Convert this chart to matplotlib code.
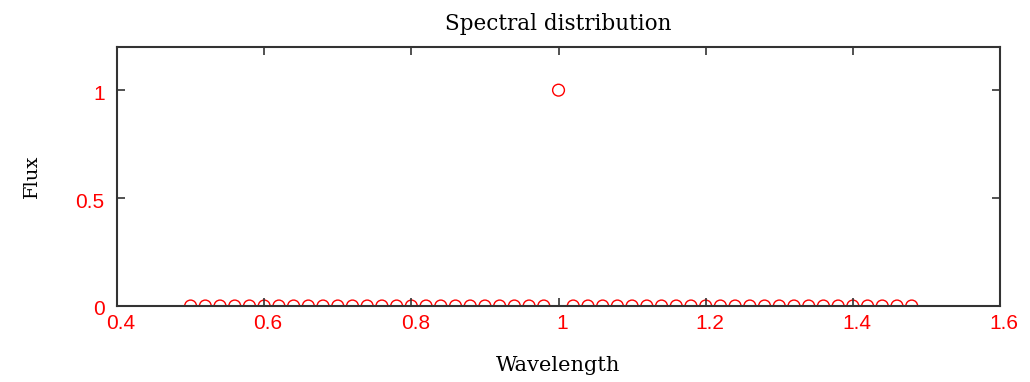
import matplotlib.pyplot as plt
import matplotlib.transforms as mtransforms
from matplotlib.patches import Rectangle
import numpy as np

# wavelength grid and flux values
wavelength = np.round(np.arange(0.50, 1.49, 0.02), 2)
flux = np.zeros(len(wavelength))
flux[wavelength == 1.0] = 1.0

x_ticks = [0.4, 0.6, 0.8, 1.0, 1.2, 1.4, 1.6]
x_tick_labels = ["0.4", "0.6", "0.8", "1", "1.2", "1.4", "1.6"]
y_ticks = [0, 0.5, 1]
y_tick_labels = ["0", "0.5", "1"]

plt.rcParams['font.family'] = ['DejaVu Serif']

fig = plt.figure(figsize=(10.3, 3.82), dpi=100)
ax = fig.add_axes([0.1136, 0.199, 0.8573, 0.678])

ax.scatter(wavelength, flux, s=72, marker='o', facecolors='none',
           edgecolors='red', linewidths=1.0, zorder=1)

# white strip just under the axis so the baseline circles look cut in half
ax.add_patch(Rectangle((0, -0.04), 1, 0.04, transform=ax.transAxes,
                       facecolor='white', edgecolor='none', clip_on=False, zorder=1.2))

ax.set_xlim(0.4, 1.6)
ax.set_ylim(0, 1.2)
ax.set_xticks(x_ticks)
ax.set_xticklabels(x_tick_labels)
ax.set_yticks(y_ticks)
ax.set_yticklabels(y_tick_labels)

ax.tick_params(direction='in', top=True, right=True, length=6, width=1.2,
               labelsize=15, colors='#333333')
ax.tick_params(axis='x', pad=6)
ax.tick_params(axis='y', pad=9)
shift_x = mtransforms.ScaledTranslation(4 / 100, 0, fig.dpi_scale_trans)
shift_y = mtransforms.ScaledTranslation(0, -2 / 100, fig.dpi_scale_trans)
for lbl in ax.get_xticklabels():
    lbl.set_color('red')
    lbl.set_family(['Liberation Sans', 'DejaVu Sans'])
    lbl.set_transform(lbl.get_transform() + shift_x)
for lbl in ax.get_yticklabels():
    lbl.set_color('red')
    lbl.set_family(['Liberation Sans', 'DejaVu Sans'])
    lbl.set_transform(lbl.get_transform() + shift_y)
for sp in ax.spines.values():
    sp.set_linewidth(1.5)
    sp.set_color('#333333')
    sp.set_zorder(3)

ax.set_title("Spectral distribution", fontsize=15.5, pad=12)
ax.set_xlabel("Wavelength", fontsize=15, labelpad=16)
ax.set_ylabel("Flux", fontsize=14, labelpad=25)

fig.savefig("out.png", dpi=100)
